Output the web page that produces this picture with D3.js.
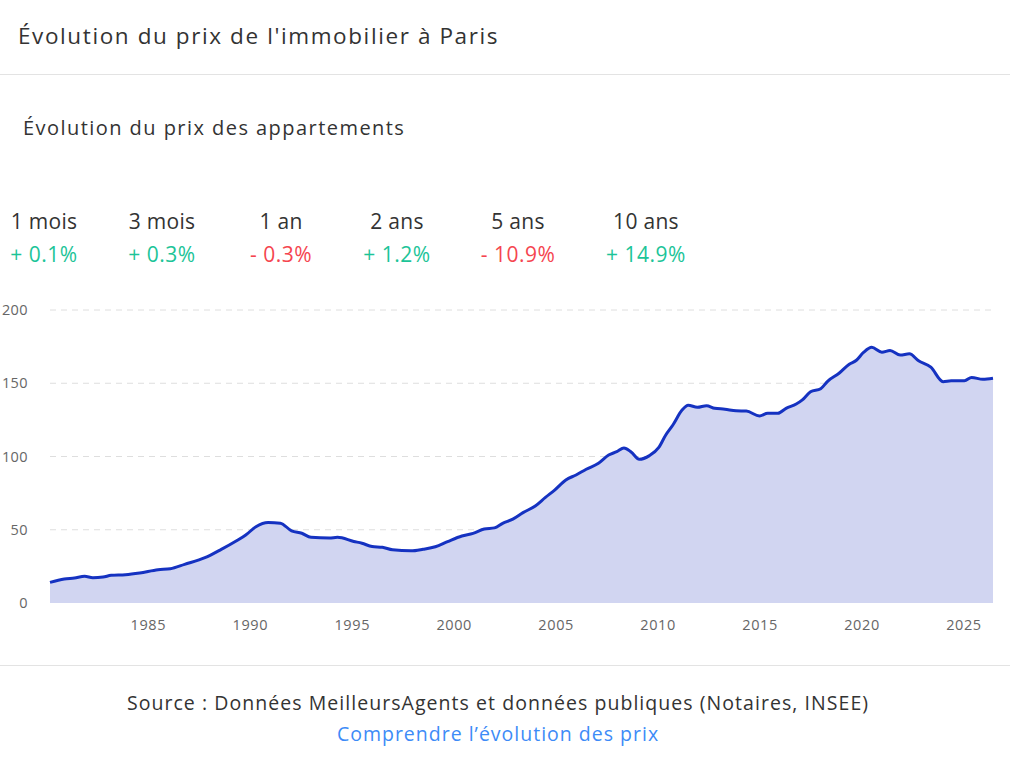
<!DOCTYPE html>
<html>
<head>
<meta charset="utf-8">
<script src="https://cdn.jsdelivr.net/npm/d3@7"></script>
<style>
  body { margin: 0; background: #fff; }
  svg { font-family: "Open Sans", sans-serif; }
</style>
</head>
<body>
<div id="chart"></div>
<script>
// Data (decimal year, price index)
var years = [
    1980.2, 1980.9, 1981.4, 1981.9, 1982.3, 1982.8, 1983.2, 1983.9, 1984.6, 1985.5,
    1986.1, 1986.8, 1987.8, 1988.6, 1989.35, 1989.8, 1990.3, 1990.9, 1991.5, 1992.05,
    1992.55, 1993.0, 1993.9, 1994.3, 1995.1, 1995.5, 1996.0, 1996.5, 1997.0, 1997.9,
    1998.5, 1999.1, 1999.7, 2000.4, 2000.95, 2001.5, 2002.0, 2002.4, 2002.9, 2003.4,
    2004.0, 2004.5, 2004.95, 2005.5, 2006.0, 2006.5, 2007.1, 2007.6, 2008.0, 2008.35,
    2008.7, 2009.1, 2009.6, 2010.05, 2010.4, 2010.75, 2011.2, 2011.5, 2011.95, 2012.4,
    2012.8, 2013.3, 2013.85, 2014.35, 2015.0, 2015.4, 2015.9, 2016.3, 2016.8, 2017.1,
    2017.5, 2018.0, 2018.35, 2018.9, 2019.4, 2019.75, 2020.1, 2020.5, 2021.0, 2021.4,
    2021.9, 2022.35, 2022.8, 2023.4, 2024.0, 2024.4, 2025.05, 2025.4, 2025.95, 2026.45
];
var prices = [
    14.1, 16.4, 17.1, 18.2, 17.3, 17.7, 18.9, 19.3, 20.5, 22.7,
    23.4, 26.4, 30.9, 36.6, 42.5, 46.4, 52.1, 55.0, 54.5, 49.2,
    47.6, 44.8, 44.3, 44.8, 42.0, 40.8, 38.5, 38.0, 36.3, 35.6,
    36.7, 38.4, 41.9, 45.7, 47.5, 50.5, 51.3, 54.4, 57.3, 61.7,
    66.2, 72.1, 77.1, 84.0, 87.4, 91.3, 95.4, 101.0, 103.3, 105.8,
    103.1, 98.1, 100.6, 106.0, 114.7, 121.5, 131.7, 135.0, 133.6, 134.7,
    132.9, 132.3, 131.2, 131.0, 127.7, 129.5, 129.5, 132.9, 135.8, 138.6,
    144.2, 146.3, 151.5, 156.8, 163.0, 165.7, 171.0, 174.5, 171.2, 172.3,
    169.2, 170.1, 165.3, 161.0, 151.1, 151.7, 151.7, 154.0, 152.7, 153.4
];

var periods = ["1 mois", "3 mois", "1 an", "2 ans", "5 ans", "10 ans"];
var changes = [0.1, 0.3, -0.3, 1.2, -10.9, 14.9];

var yTicks = [0, 50, 100, 150, 200];
var xTicks = [1985, 1990, 1995, 2000, 2005, 2010, 2015, 2020, 2025];

var title = "Évolution du prix de l'immobilier à Paris";
var subtitle = "Évolution du prix des appartements";
var source = "Source : Données MeilleursAgents et données publiques (Notaires, INSEE)";
var linkText = "Comprendre l’évolution des prix";

var width = 1010, height = 766;
var green = "#1cc498", red = "#f5454f";

var svg = d3.select("#chart")
    .append("svg")
    .attr("width", width)
    .attr("height", height);

// header
svg.append("text")
    .attr("x", 18).attr("y", 44)
    .style("font-size", "22.5px")
    .style("letter-spacing", "1.6px")
    .attr("fill", "#333")
    .text(title);

svg.append("line")
    .attr("x1", 0).attr("x2", width)
    .attr("y1", 74.5).attr("y2", 74.5)
    .attr("stroke", "#e3e3e3");

svg.append("text")
    .attr("x", 23).attr("y", 135)
    .style("font-size", "20px")
    .style("letter-spacing", "1.45px")
    .attr("fill", "#333")
    .text(subtitle);

// variation summary
var statX = [44, 162, 281, 397, 518, 646];
periods.forEach(function(p, i) {
    svg.append("text")
        .attr("x", statX[i]).attr("y", 229)
        .attr("text-anchor", "middle")
        .style("font-size", "21px")
        .style("letter-spacing", "0.3px")
        .attr("fill", "#333")
        .text(p);
    var v = changes[i];
    svg.append("text")
        .attr("x", statX[i]).attr("y", 262)
        .attr("text-anchor", "middle")
        .style("font-size", "21px")
        .style("letter-spacing", "0.5px")
        .attr("fill", v >= 0 ? green : red)
        .text((v >= 0 ? "+ " : "- ") + Math.abs(v).toFixed(1) + "%");
});

// chart
var x = d3.scaleLinear()
    .domain([d3.min(years), d3.max(years)])
    .range([50, 993]);

var y = d3.scaleLinear()
    .domain([0, 200])
    .range([603, 310]);

var data = years.map(function(yr, i) { return {year: yr, value: prices[i]}; });

svg.append("g")
    .selectAll("line")
    .data(yTicks.filter(function(d) { return d > 0; }))
    .enter()
    .append("line")
    .attr("x1", 50).attr("x2", 993)
    .attr("y1", function(d) { return y(d); })
    .attr("y2", function(d) { return y(d); })
    .attr("stroke", "#dedede")
    .attr("stroke-dasharray", "6,5");

svg.append("path")
    .datum(data)
    .attr("fill", "#d1d5f1")
    .attr("d", d3.area()
        .curve(d3.curveMonotoneX)
        .x(function(d) { return x(d.year); })
        .y0(y(0))
        .y1(function(d) { return y(d.value); }));

svg.append("path")
    .datum(data)
    .attr("fill", "none")
    .attr("stroke", "#1532c1")
    .attr("stroke-width", 3)
    .attr("stroke-linejoin", "round")
    .attr("d", d3.line()
        .curve(d3.curveMonotoneX)
        .x(function(d) { return x(d.year); })
        .y(function(d) { return y(d.value); }));

var yAxis = svg.append("g")
    .attr("transform", "translate(28,0)")
    .call(d3.axisLeft(y).tickValues(yTicks).tickSize(0).tickPadding(0));
yAxis.select(".domain").remove();
yAxis.selectAll("text")
    .style("font-family", "Open Sans")
    .style("font-size", "14.5px")
    .style("letter-spacing", "0.4px")
    .attr("fill", "#666");

var xAxis = svg.append("g")
    .attr("transform", "translate(0,614)")
    .call(d3.axisBottom(x).tickValues(xTicks).tickFormat(d3.format("d")).tickSize(0).tickPadding(6));
xAxis.select(".domain").remove();
xAxis.selectAll("text")
    .style("font-family", "Open Sans")
    .style("font-size", "14.5px")
    .style("letter-spacing", "0.6px")
    .attr("fill", "#666");

// footer
svg.append("line")
    .attr("x1", 0).attr("x2", width)
    .attr("y1", 665.5).attr("y2", 665.5)
    .attr("stroke", "#e3e3e3");

svg.append("text")
    .attr("x", 498).attr("y", 710)
    .attr("text-anchor", "middle")
    .style("font-size", "19.5px")
    .style("letter-spacing", "1.05px")
    .attr("fill", "#333")
    .text(source);

svg.append("text")
    .attr("x", 498).attr("y", 741)
    .attr("text-anchor", "middle")
    .style("font-size", "19.5px")
    .style("letter-spacing", "1px")
    .attr("fill", "#3d8bf7")
    .text(linkText);
</script>
</body>
</html>
